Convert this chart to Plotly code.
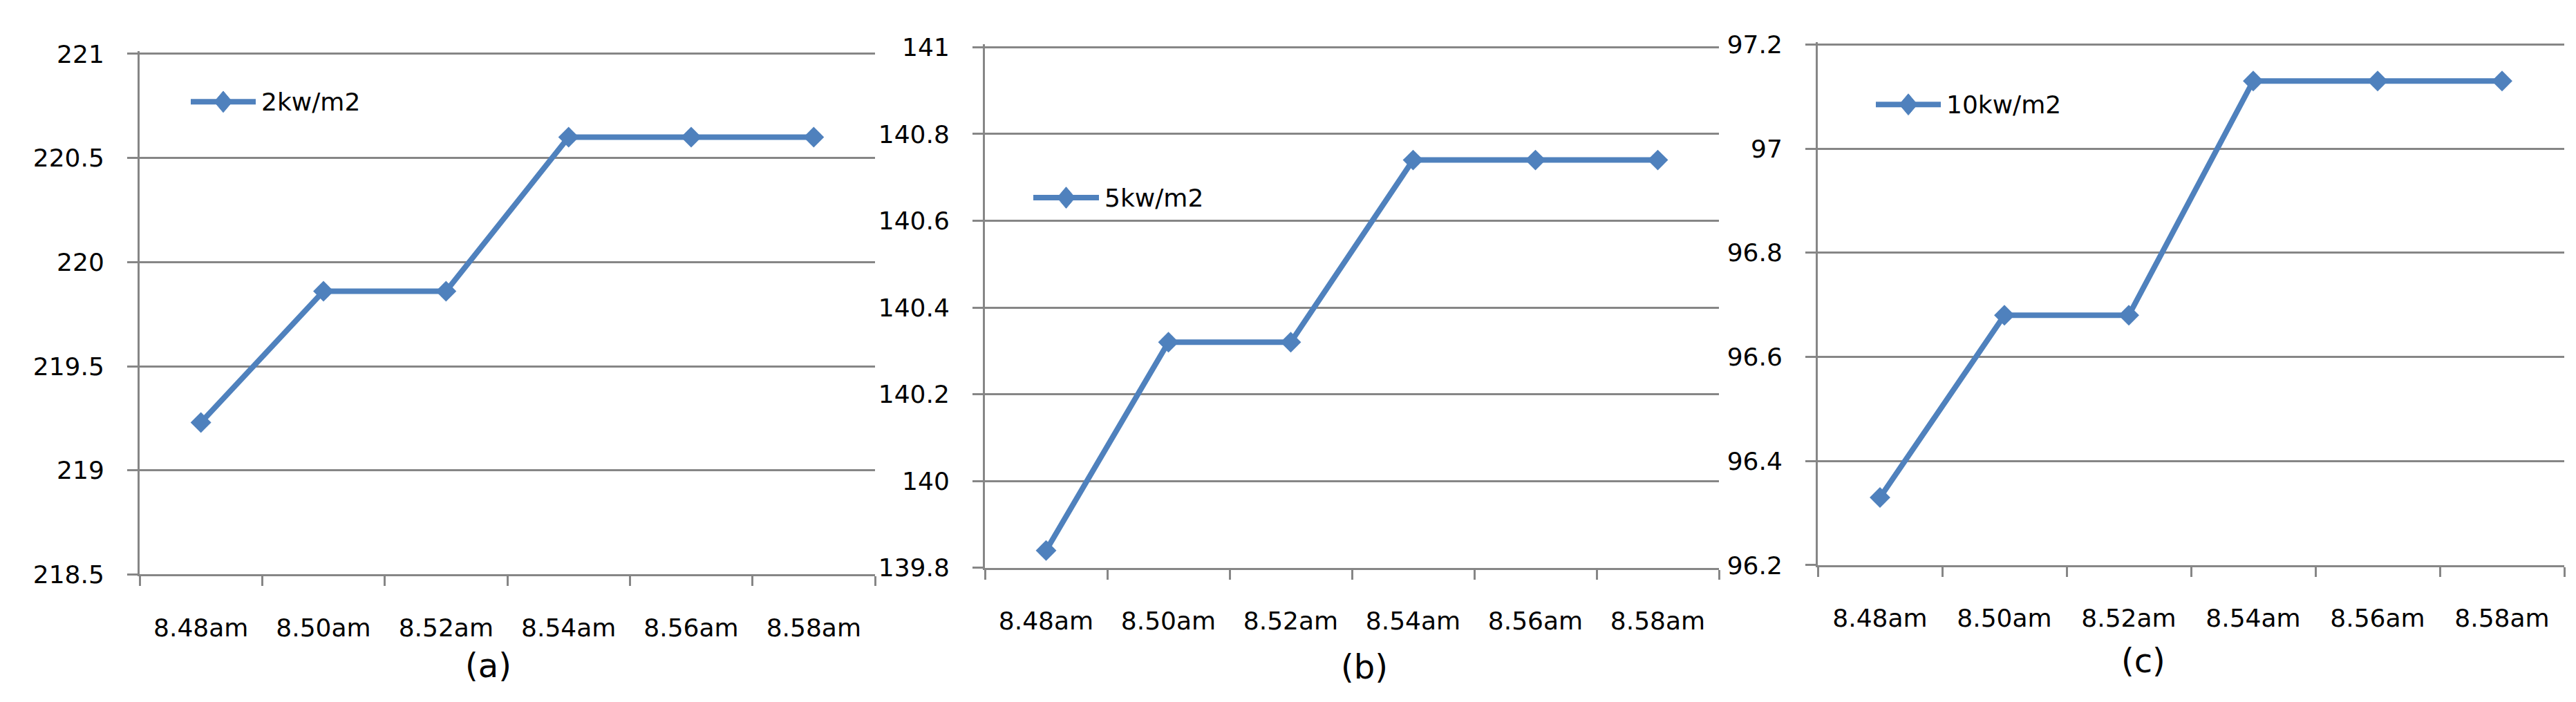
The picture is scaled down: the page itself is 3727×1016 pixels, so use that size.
import plotly.graph_objects as go

W, H = 3727, 1016

times = ["8.48am", "8.50am", "8.52am", "8.54am", "8.56am", "8.58am"]

temp_2kw = [219.23, 219.86, 219.86, 220.6, 220.6, 220.6]
temp_5kw = [139.84, 140.32, 140.32, 140.74, 140.74, 140.74]
temp_10kw = [96.33, 96.68, 96.68, 97.13, 97.13, 97.13]

series_names = ["2kw/m2", "5kw/m2", "10kw/m2"]
panel_labels = ["(a)", "(b)", "(c)"]

yticks_a = [218.5, 219, 219.5, 220, 220.5, 221]
yticks_b = [139.8, 140, 140.2, 140.4, 140.6, 140.8, 141]
yticks_c = [96.2, 96.4, 96.6, 96.8, 97, 97.2]

BLUE = "#4F81BD"
GRID = "#868686"
FONT = "DejaVu Sans"


def px_x(x):
    return x / W


def px_y(y):
    return 1 - y / H


# pixel boxes of the three plot areas: left, right, top, bottom
panels = [
    (194, 1258, 56, 838),
    (1417, 2479, 46, 828),
    (2622, 3702, 42, 824),
]
# legend glyph: line start, line end, y
legend_pos = [(268, 362, 128), (1487, 1582, 272), (2706, 2800, 132)]
label_pos = [(698, 974), (1966, 977), (3093, 967)]

data = [temp_2kw, temp_5kw, temp_10kw]
yticks = [yticks_a, yticks_b, yticks_c]

fig = go.Figure()
layout = {}

for i, (vals, ticks) in enumerate(zip(data, yticks)):
    n = "" if i == 0 else str(i + 1)
    fig.add_trace(go.Scatter(
        x=times, y=vals, name=series_names[i],
        mode="lines+markers",
        line=dict(color=BLUE, width=8),
        marker=dict(symbol="diamond", size=23, color=BLUE),
        xaxis="x" + n, yaxis="y" + n,
        showlegend=False,
    ))
    l, r, t, b = panels[i]
    # pad the top a few pixels so the top gridline is kept
    pad_px = 4
    span = ticks[-1] - ticks[0]
    top_val = ticks[-1] + span * pad_px / (b - t)
    layout["xaxis" + n] = dict(
        domain=[px_x(l), px_x(r)], anchor="y" + n,
        type="category", range=[-0.5, 5.5],
        tickson="boundaries", ticks="outside", ticklen=14, tickwidth=3, tickcolor=GRID,
        showline=True, linecolor=GRID, linewidth=3, showgrid=False,
        tickfont=dict(family=FONT, size=36, color="black"),
        ticklabelstandoff=43,
    )
    layout["yaxis" + n] = dict(
        domain=[px_y(b), px_y(t - pad_px)], anchor="x" + n,
        range=[ticks[0], top_val],
        tickvals=ticks, ticktext=[f"{v:g}" for v in ticks],
        ticks="outside", ticklen=15, tickwidth=3, tickcolor=GRID,
        showline=True, linecolor=GRID, linewidth=3,
        showgrid=True, gridcolor=GRID, gridwidth=3, zeroline=False,
        tickfont=dict(family=FONT, size=36, color="black"),
        ticklabelstandoff=26,
    )

shapes = []
annotations = []
for i in range(3):
    x0, x1, yy = legend_pos[i]
    shapes.append(dict(type="line", xref="paper", yref="paper",
                       x0=px_x(x0), x1=px_x(x1), y0=px_y(yy), y1=px_y(yy),
                       line=dict(color=BLUE, width=8)))
    cx = (x0 + x1) / 2
    path = (f"M{px_x(cx - 13)},{px_y(yy)} L{px_x(cx)},{px_y(yy - 16)} "
            f"L{px_x(cx + 13)},{px_y(yy)} L{px_x(cx)},{px_y(yy + 16)} Z")
    shapes.append(dict(type="path", xref="paper", yref="paper", path=path,
                       fillcolor=BLUE, line=dict(color=BLUE, width=1)))
    annotations.append(dict(x=px_x(x1 + 6), y=px_y(yy), xref="paper", yref="paper",
                            text=series_names[i], showarrow=False,
                            xanchor="left", yanchor="middle",
                            font=dict(family=FONT, size=36, color="black")))
    lx, ly = label_pos[i]
    annotations.append(dict(x=px_x(lx), y=px_y(ly), xref="paper", yref="paper",
                            text=panel_labels[i], showarrow=False,
                            xanchor="center", yanchor="middle",
                            font=dict(family=FONT, size=48, color="black")))

fig.update_layout(
    width=W, height=H,
    margin=dict(l=0, r=0, t=0, b=0),
    paper_bgcolor="white", plot_bgcolor="white",
    shapes=shapes, annotations=annotations,
    **layout,
)

fig.write_html("out.html")
